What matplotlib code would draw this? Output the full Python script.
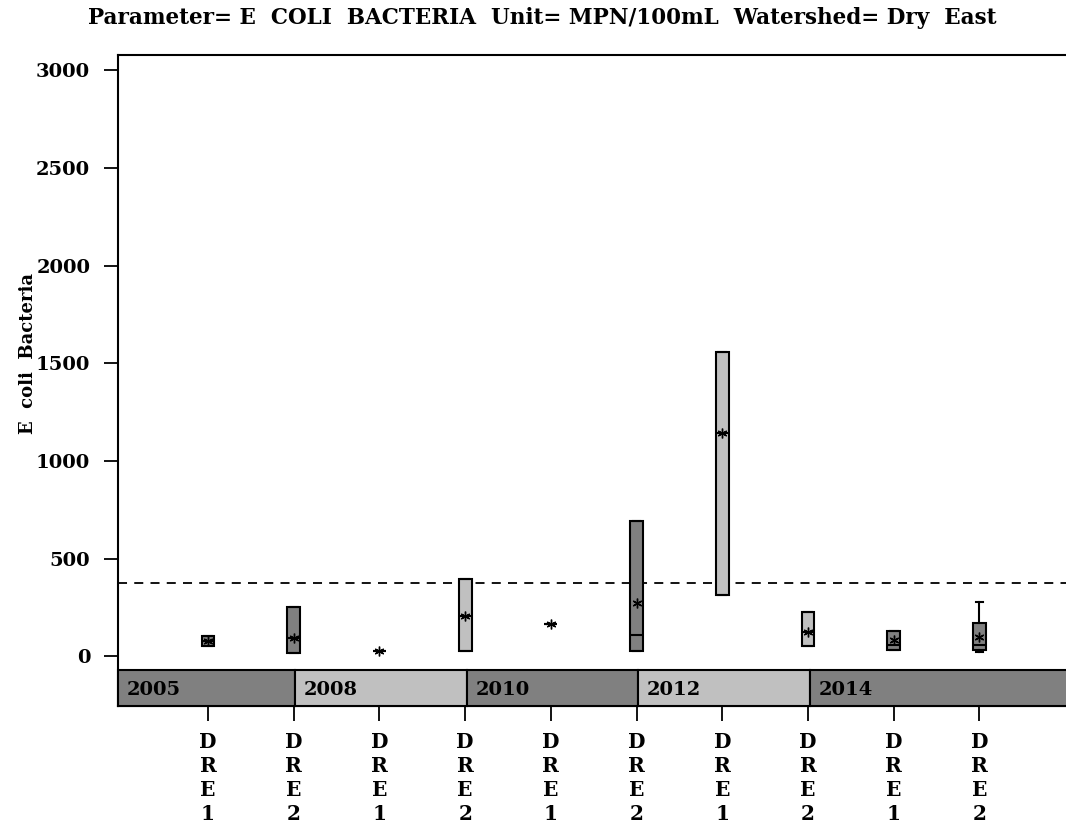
import matplotlib
matplotlib.use("Agg")
import matplotlib.pyplot as plt
from matplotlib.patches import Rectangle

# ---- data ----
categories = ["DRE1", "DRE2", "DRE1", "DRE2", "DRE1", "DRE2", "DRE1", "DRE2", "DRE1", "DRE2"]
years = ["2005", "2008", "2010", "2012", "2014"]
year_start_idx = [0, 1, 3, 5, 7]   # category index where each year's band begins
q1 =     [54, 17, 27, 30, 165, 28, 315, 54, 33, 33]
median = [80, 95, 27, 207, 165, 108, 1144, 127, 60, 60]
q3 =     [105, 252, 27, 395, 165, 693, 1558, 228, 130, 173]
mean =   [80, 95, 27, 207, 165, 275, 1144, 127, 84, 98]
whislo = [54, 17, 27, 30, 165, 28, 315, 54, 33, 25]
whishi = [105, 252, 27, 395, 165, 693, 1558, 228, 130, 279]
box_color_by_year = ["#808080", "#c0c0c0", "#808080", "#c0c0c0", "#808080"]
cat_year = [0, 0, 1, 1, 2, 2, 3, 3, 4, 4]
reference_level = 378
yticks = [0, 500, 1000, 1500, 2000, 2500, 3000]

FONT = "DejaVu Serif"
W, H = 1066, 834
fig = plt.figure(figsize=(W / 100, H / 100), dpi=100)
left_px, top_px, bottom_px, right_px = 118, 55, 705.5, 1066
ax = fig.add_axes([left_px / W, 1 - bottom_px / H, (right_px - left_px) / W, (bottom_px - top_px) / H])

ymin, ymax = -251, 3079
band_top = -69
ax.set_ylim(ymin, ymax)
ax.set_xlim(-1.05, 10.01)

positions = list(range(len(categories)))
stats = []
for i in positions:
    stats.append(dict(q1=q1[i], med=median[i], q3=q3[i], mean=mean[i],
                      whislo=whislo[i], whishi=whishi[i], fliers=[]))

bp = ax.bxp(stats, positions=positions, widths=0.15, patch_artist=True,
            showmeans=True, showfliers=False, capwidths=0.09,
            boxprops=dict(edgecolor="black", linewidth=1.5),
            medianprops=dict(color="black", linewidth=1.5),
            whiskerprops=dict(color="black", linewidth=1.5),
            capprops=dict(color="black", linewidth=1.5),
            meanprops=dict(marker=(6, 2, 0), markersize=7, markeredgecolor="black",
                           markerfacecolor="black", markeredgewidth=1.0),
            zorder=3)
for patch, yi in zip(bp["boxes"], cat_year):
    patch.set_facecolor(box_color_by_year[yi])

ax.axhline(reference_level, color="black", linewidth=1.3, dashes=(5, 4), zorder=2)

# year band
for k, yr in enumerate(years):
    x0 = -1.05 if k == 0 else year_start_idx[k] + 0.02
    x1 = 10.5 if k == len(years) - 1 else year_start_idx[k + 1] + 0.02
    ax.add_patch(Rectangle((x0, ymin), x1 - x0, band_top - ymin,
                           facecolor=box_color_by_year[k], edgecolor="black",
                           linewidth=1.5, zorder=4, clip_on=False))
    ax.text(x0 + 0.1, (ymin + band_top) / 2 - 10, yr, fontsize=14, fontweight="bold",
            family=FONT, ha="left", va="center", zorder=5)

ax.spines["right"].set_visible(False)
for s in ["left", "top", "bottom"]:
    ax.spines[s].set_linewidth(1.5)

ax.set_yticks(yticks)
ax.set_yticklabels([str(v) for v in yticks], fontsize=14, fontweight="bold", family=FONT)
ax.tick_params(axis="y", length=10, width=1.3, pad=10)
ax.set_xticks(positions)
ax.set_xticklabels(["\n".join(c) for c in categories], fontsize=14.5, fontweight="bold",
                   family=FONT, linespacing=1.25)
ax.tick_params(axis="x", length=11, width=1.3, pad=8)

ax.set_ylabel("E  coli  Bacteria", fontsize=13, fontweight="bold", family=FONT)
ax.yaxis.set_label_coords((37 - left_px) / (right_px - left_px), (705.5 - 354) / (705.5 - 55))

fig.text(542 / W, 1 - 18 / H,
         "Parameter= E  COLI  BACTERIA  Unit= MPN/100mL  Watershed= Dry  East",
         ha="center", va="center", fontsize=15.5, fontweight="bold", family=FONT)

fig.savefig("out.png", dpi=100)
